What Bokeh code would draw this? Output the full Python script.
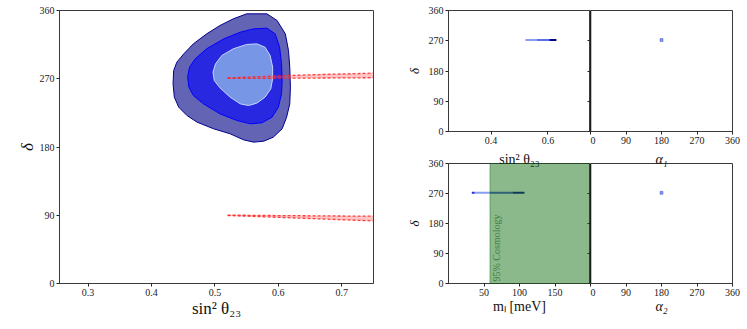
from math import pi
from bokeh.plotting import figure
from bokeh.layouts import row, column
from bokeh.models import FixedTicker, LinearAxis, Span, BoxAnnotation, Label
from bokeh.embed import file_html
from bokeh.resources import INLINE

# ---------------- data ----------------
# main panel: allowed regions (sin^2 theta23, delta)
c3_s = [0.550, 0.582, 0.598, 0.611, 0.616, 0.618, 0.619, 0.618, 0.613, 0.606, 0.592, 0.577, 0.561, 0.545,
        0.524, 0.498, 0.472, 0.456, 0.443, 0.436, 0.434, 0.435, 0.440, 0.451, 0.466, 0.487, 0.508, 0.529]
c3_d = [355.6, 355.6, 346.8, 329.2, 307.3, 285.3, 258.9, 236.9, 219.3, 204.0, 193.0, 187.7, 186.4, 189.5,
        197.4, 204.0, 212.7, 221.5, 232.5, 245.7, 263.3, 280.9, 291.9, 302.9, 316.0, 329.2, 340.2, 349.0]
c2_s = [0.540, 0.561, 0.582, 0.595, 0.602, 0.605, 0.606, 0.605, 0.600, 0.590, 0.574, 0.556, 0.535, 0.508,
        0.482, 0.466, 0.459, 0.457, 0.460, 0.469, 0.487, 0.514]
c2_d = [331.4, 335.8, 336.7, 329.2, 311.6, 289.7, 267.7, 250.1, 232.5, 219.3, 211.9, 210.5, 214.9, 223.7,
        236.9, 247.9, 258.9, 272.1, 285.3, 296.3, 309.5, 322.6]
c1_s = [0.511, 0.529, 0.550, 0.566, 0.579, 0.587, 0.591, 0.591, 0.588, 0.579, 0.566, 0.553, 0.540, 0.524,
        0.508, 0.499, 0.497, 0.501]
c1_d = [300.7, 309.5, 315.2, 316.0, 311.6, 300.7, 285.3, 269.9, 256.7, 245.7, 237.8, 234.7, 236.9, 245.7,
        258.0, 267.7, 278.7, 289.7]

# model prediction bands (red, dashed)
band_s = [0.52, 0.56, 0.60, 0.65, 0.70, 0.75]
band_hi_up = [271.0, 272.4, 273.8, 275.2, 276.3, 277.4]
band_hi_lo = [270.4, 270.5, 270.7, 270.9, 271.1, 271.4]
band_lo_up = [90.2, 89.9, 89.6, 89.3, 89.0, 88.8]
band_lo_lo = [89.6, 88.5, 87.2, 85.7, 84.1, 82.5]

# small panels: model allowed regions
tl_left = [0.521, 0.560, 0.605]
tl_right = [0.560, 0.605, 0.630]
tl_bot = [269.5, 269.5, 269.5]
tl_top = [275.5, 275.5, 275.5]
tl_col = ["#8aa0ee", "#5a70e6", "#00008b"]

bl_left = [32.8, 37.0, 58.4, 90.0]
bl_right = [37.0, 58.4, 90.0, 107.0]
bl_bot = [269.5, 269.5, 269.5, 269.5]
bl_top = [275.5, 275.5, 275.5, 275.5]
bl_col = ["#2828e1", "#8aa0ee", "#5060d8", "#1a1aa0"]

tr_alpha1 = [180]
tr_delta = [272]
br_alpha2 = [180]
br_delta = [272]

cosmo_bound = 58.4  # meV, 95% cosmology bound

main_xticks = [0.3, 0.4, 0.5, 0.6, 0.7]
delta_ticks = [0, 90, 180, 270, 360]
tl_xticks = [0.4, 0.6]
bl_xticks = [50, 100, 150]
alpha_ticks = [0, 90, 180, 270, 360]

# ---------------- style ----------------
FONT = "Liberation Serif"
AX = "#3a3a3a"


def style(p, tick_px="10px"):
    p.xgrid.visible = False
    p.ygrid.visible = False
    p.outline_line_color = AX
    p.outline_line_width = 1
    p.background_fill_color = "white"
    p.border_fill_color = "white"
    for ax in list(p.xaxis) + list(p.yaxis):
        ax.major_tick_out = 3
        ax.major_tick_in = 0
        ax.minor_tick_out = 0
        ax.minor_tick_in = 0
        ax.axis_line_color = AX
        ax.major_tick_line_color = "#222222"
        ax.major_label_text_font = FONT
        ax.major_label_text_font_size = tick_px
        ax.major_label_text_color = "#222222"
        ax.major_label_standoff = 2
        ax.axis_label_text_font = FONT
        ax.axis_label_text_color = "#111111"
        ax.axis_label_standoff = 0


def edge_ticks(p, loc, ticks):
    ax = LinearAxis(fixed_location=loc, ticker=FixedTicker(ticks=ticks),
                    major_tick_in=3, major_tick_out=0, minor_tick_in=0, minor_tick_out=0,
                    axis_line_color=None, major_tick_line_color="#222222",
                    major_label_text_font_size="0px", major_label_text_alpha=0)
    p.add_layout(ax, "right")


def top_label(p, text, size, italic):
    ax = LinearAxis(ticker=FixedTicker(ticks=[]), axis_line_color=None,
                    major_tick_in=0, major_tick_out=0, minor_tick_in=0, minor_tick_out=0,
                    major_label_standoff=0, axis_label=text, axis_label_standoff=-3,
                    axis_label_text_font=FONT, axis_label_text_font_size=size,
                    axis_label_text_color="#111111",
                    axis_label_text_font_style="italic" if italic else "normal")
    p.add_layout(ax, "above")


# ---------------- main panel ----------------
pm = figure(width=383, height=328, x_range=(0.255, 0.75), y_range=(0, 360),
            min_border_left=59, min_border_right=10, min_border_top=10, min_border_bottom=45,
            toolbar_location=None, output_backend="svg")
pm.patch(c3_s, c3_d, fill_color="#6464b4", line_color="#00008b", line_width=1)
pm.patch(c2_s, c2_d, fill_color="#2828e1", line_color="#0000ff", line_width=1)
pm.patch(c1_s, c1_d, fill_color="#7896e6", line_color="#c6d6ff", line_width=1)
for up, lo in ((band_hi_up, band_hi_lo), (band_lo_up, band_lo_lo)):
    pm.varea(x=band_s, y1=lo, y2=up, fill_color="#ff5555", fill_alpha=0.35)
    pm.line(band_s, up, line_color="#ff2222", line_alpha=0.85, line_width=1.3, line_dash="3 2")
    pm.line(band_s, lo, line_color="#ff2222", line_alpha=0.85, line_width=1.3, line_dash="3 2")
style(pm)
pm.xaxis.ticker = FixedTicker(ticks=main_xticks)
pm.yaxis.ticker = FixedTicker(ticks=delta_ticks)
pm.xaxis.axis_label = "sin² θ₂₃"
pm.xaxis.axis_label_text_font_size = "17px"
pm.xaxis.axis_label_text_font_style = "normal"
pm.yaxis.axis_label = "δ"
pm.yaxis.axis_label_text_font_size = "17px"
pm.yaxis.axis_label_text_font_style = "italic"

# ---------------- top-left small ----------------
ptl = figure(width=207, height=148, x_range=(0.25, 0.75), y_range=(0, 360),
             min_border_left=65, min_border_right=0, min_border_top=10, min_border_bottom=17,
             toolbar_location=None, output_backend="svg")
ptl.quad(left=tl_left, right=tl_right, bottom=tl_bot, top=tl_top, fill_color=tl_col, line_color=None)
style(ptl)
ptl.xaxis.ticker = FixedTicker(ticks=tl_xticks)
ptl.yaxis.ticker = FixedTicker(ticks=delta_ticks)
ptl.yaxis.axis_label = "δ"
ptl.yaxis.axis_label_text_font_size = "13px"
ptl.yaxis.axis_label_text_font_style = "italic"
ptl.yaxis.axis_label_standoff = 4
edge_ticks(ptl, 0.75, delta_ticks)

# ---------------- top-right small ----------------
ptr = figure(width=152, height=148, x_range=(0, 360), y_range=(0, 360), y_axis_location=None,
             min_border_left=0, min_border_right=10, min_border_top=10, min_border_bottom=17,
             toolbar_location=None, output_backend="svg")
ptr.scatter(tr_alpha1, tr_delta, marker="square", size=3, fill_color="#8094ec", line_color="#5060d8",
            line_width=0.5)
style(ptr)
ptr.xaxis.ticker = FixedTicker(ticks=alpha_ticks)
ptr.add_layout(Span(location=0, dimension="height", line_color="black", line_width=1.5))

# ---------------- bottom-left small ----------------
pbl = figure(width=207, height=180, x_range=(0, 200), y_range=(0, 360),
             min_border_left=65, min_border_right=0, min_border_top=14, min_border_bottom=45,
             toolbar_location=None, output_backend="svg")
pbl.quad(left=bl_left, right=bl_right, bottom=bl_bot, top=bl_top, fill_color=bl_col, line_color=None)
pbl.add_layout(BoxAnnotation(left=cosmo_bound, fill_color="darkgreen", fill_alpha=0.45,
                             line_color="darkgreen", line_alpha=0.4, line_width=1))
pbl.add_layout(Label(x=cosmo_bound, y=0, x_offset=1.5, y_offset=2, text="95% Cosmology", angle=pi / 2,
                     angle_units="rad", text_align="left", text_baseline="top", text_font=FONT,
                     text_font_size="10px", text_color="#3e7d3e"))
style(pbl)
pbl.xaxis.ticker = FixedTicker(ticks=bl_xticks)
pbl.yaxis.ticker = FixedTicker(ticks=delta_ticks)
pbl.yaxis.axis_label = "δ"
pbl.yaxis.axis_label_text_font_size = "13px"
pbl.yaxis.axis_label_text_font_style = "italic"
pbl.yaxis.axis_label_standoff = 4
pbl.xaxis.axis_label = "mₗ [meV]"
pbl.xaxis.axis_label_text_font_size = "14px"
pbl.xaxis.axis_label_text_font_style = "normal"
edge_ticks(pbl, 200, delta_ticks)
top_label(pbl, "sin² θ₂₃", "14px", False)

# ---------------- bottom-right small ----------------
pbr = figure(width=152, height=180, x_range=(0, 360), y_range=(0, 360), y_axis_location=None,
             min_border_left=0, min_border_right=10, min_border_top=14, min_border_bottom=45,
             toolbar_location=None, output_backend="svg")
pbr.scatter(br_alpha2, br_delta, marker="square", size=3, fill_color="#8094ec", line_color="#5060d8",
            line_width=0.5)
style(pbr)
pbr.xaxis.ticker = FixedTicker(ticks=alpha_ticks)
pbr.xaxis.axis_label = "α₂"
pbr.xaxis.axis_label_text_font_size = "14px"
pbr.xaxis.axis_label_text_font_style = "italic"
pbr.add_layout(Span(location=0, dimension="height", line_color="black", line_width=1.5))
top_label(pbr, "α₁", "14px", True)

layout = row(pm, column(row(ptl, ptr), row(pbl, pbr)))
open("out.html", "w").write(file_html(layout, INLINE))
